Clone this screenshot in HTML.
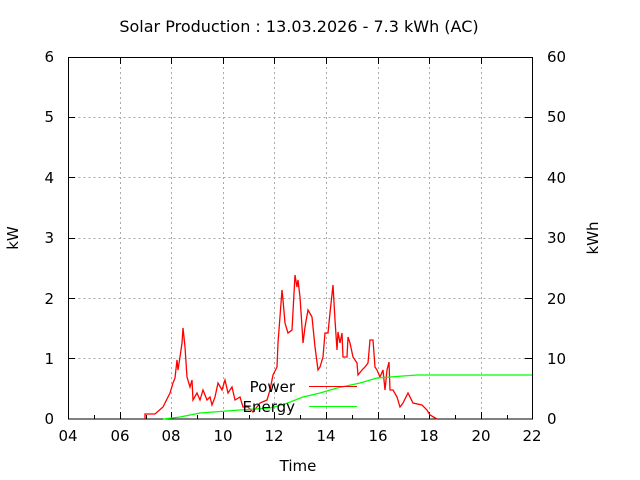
<!DOCTYPE html>
<html><head><style>body{margin:0;background:#fff}svg{display:block}text{font-family:"DejaVu Sans","Liberation Sans",sans-serif;fill:#000}</style></head><body>
<svg width="640" height="480" viewBox="0 0 640 480">
<rect width="640" height="480" fill="#fff"/>
<g stroke="#aaa" stroke-dasharray="2,3" stroke-width="1">
<path d="M68.5 358.5H532M68.5 298.5H532M68.5 238.5H532M68.5 177.5H532M68.5 117.5H532"/>
<path d="M120.5 57V419M171.5 57V419M223.5 57V419M274.5 57V419M326.5 57V419M378.5 57V419M429.5 57V419M481.5 57V419"/>
</g>
<g stroke="#000" stroke-width="1">
<rect x="68.5" y="57.5" width="464" height="361.5" fill="none"/>
<path d="M68 358.5h7M68 298.5h7M68 238.5h7M68 177.5h7M68 117.5h7M532 358.5h-7M532 298.5h-7M532 238.5h-7M532 177.5h-7M532 117.5h-7"/>
<path d="M94.5 419v-4M120.5 419v-7M146.5 419v-4M171.5 419v-7M197.5 419v-4M223.5 419v-7M249.5 419v-4M274.5 419v-7M300.5 419v-4M326.5 419v-7M352.5 419v-4M378.5 419v-7M404.5 419v-4M429.5 419v-7M455.5 419v-4M481.5 419v-7M507.5 419v-4"/>
<path d="M120.5 57v7M171.5 57v7M223.5 57v7M274.5 57v7M326.5 57v7M378.5 57v7M429.5 57v7M481.5 57v7"/>
</g>
<g font-size="15" text-anchor="end">
<text x="54" y="424">0</text><text x="54" y="364">1</text><text x="54" y="304">2</text><text x="54" y="243">3</text><text x="54" y="183">4</text><text x="54" y="122">5</text><text x="54" y="62">6</text>
</g>
<g font-size="15" text-anchor="start">
<text x="547" y="424">0</text><text x="547" y="364">10</text><text x="547" y="304">20</text><text x="547" y="243">30</text><text x="547" y="183">40</text><text x="547" y="122">50</text><text x="547" y="62">60</text>
</g>
<g font-size="15" text-anchor="middle">
<text x="68" y="441">04</text><text x="120" y="441">06</text><text x="171" y="441">08</text><text x="223" y="441">10</text><text x="274" y="441">12</text><text x="326" y="441">14</text><text x="378" y="441">16</text><text x="429" y="441">18</text><text x="481" y="441">20</text><text x="532" y="441">22</text>
<text x="298" y="471">Time</text>
<text x="299" y="32" font-size="16">Solar Production : 13.03.2026 - 7.3 kWh (AC)</text>
<text transform="translate(18,238) rotate(-90)">kW</text>
<text transform="translate(598,238) rotate(-90)">kWh</text>
</g>
<polyline fill="none" stroke="#f00" stroke-width="1.3" points="145,419 145,414 155,414 163,407 170,393 173,383 175,378 177,360 178,370 180,357 182,343 183,328 185,347 187,377 190,387 192,380 193,400 197,393 200,400 203,390 207,400 210,397 212,405 215,397 218,383 222,390 225,380 228,393 232,387 235,400 240,397 243,407 248,407 253,412 260,403 267,400 270,390 273,375 277,367 278,343 282,290 283,300 285,323 288,333 292,330 295,275 297,287 298,280 300,297 302,327 303,343 305,327 308,310 312,317 313,327 315,347 318,370 320,367 323,357 325,333 328,333 330,313 333,285 335,320 337,350 338,332 340,343 342,333 343,357 347,357 348,337 350,343 353,357 357,363 358,375 362,370 365,367 368,363 370,340 373,340 375,367 377,370 380,377 383,370 385,390 387,370 389,362 390,390 393,390 397,397 400,407 403,403 408,393 413,403 422,405 427,410 430,415 437,419"/>
<polyline fill="none" stroke="#0f0" stroke-width="1.3" points="163,419 180,417 200,413 240,410 270,408 285,404 303,397 320,393 337,388 360,383 377,378 390,377 403,376 417,375 532,375"/>
<g font-size="15" text-anchor="end"><text x="295" y="392">Power</text><text x="295" y="412">Energy</text></g>
<path d="M309 386.5h48" stroke="#f00" stroke-width="1"/>
<path d="M309 406.5h48" stroke="#0f0" stroke-width="1"/>
</svg>
</body></html>
